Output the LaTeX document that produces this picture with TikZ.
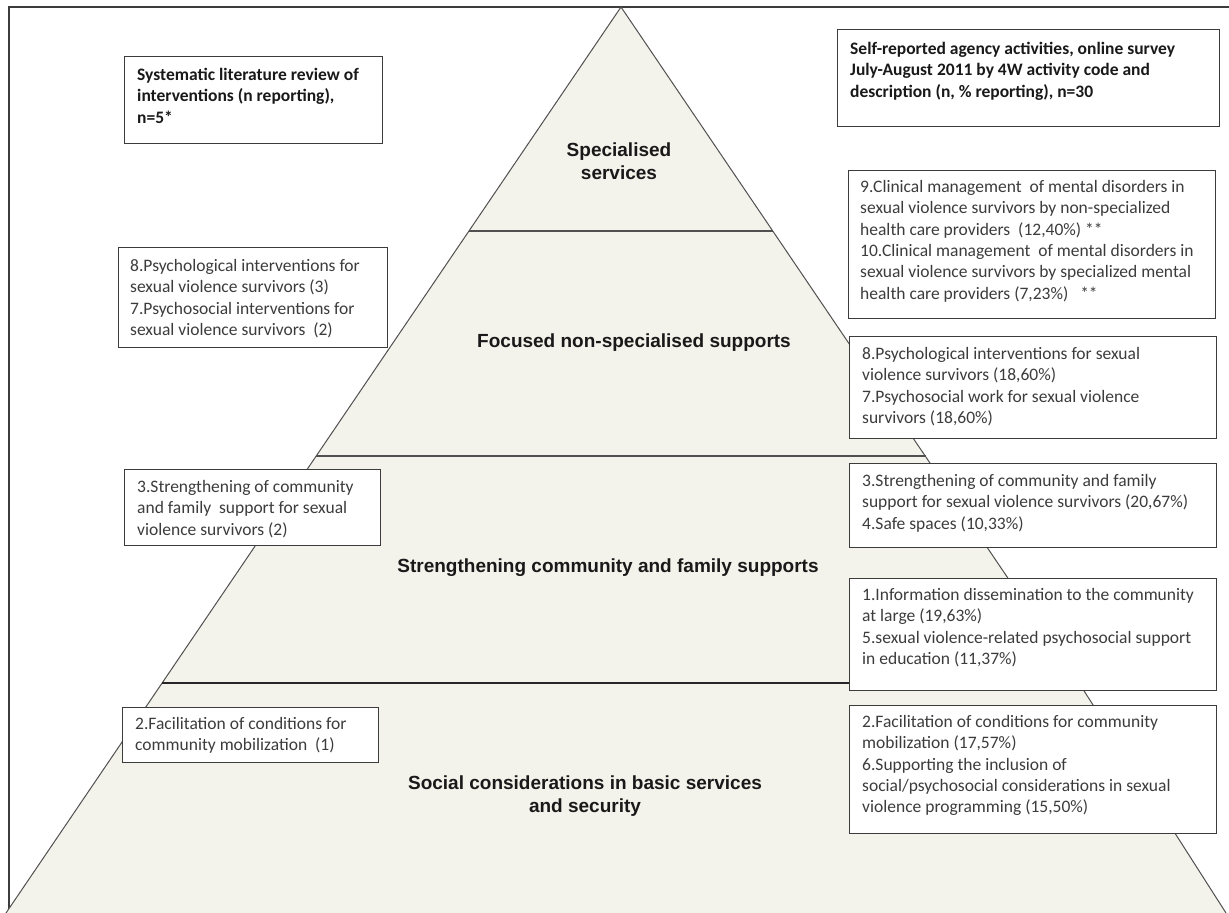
\documentclass[tikz,border=0pt]{standalone}
\usepackage{fontspec}
\newfontfamily\boxfont{Carlito}
\newfontfamily\bandfont{Liberation Sans}
\definecolor{pyrfill}{RGB}{243,242,235}
\definecolor{edgegray}{RGB}{80,80,80}
\definecolor{boxline}{RGB}{60,60,60}
\definecolor{txtgray}{RGB}{60,60,60}
\definecolor{txtdark}{RGB}{25,25,25}
\tikzset{
  box/.style={draw=boxline, line width=1.4pt, fill=white, rectangle, inner sep=0pt, anchor=north west},
  boxtxt/.style={anchor=north west, align=left, inner sep=0pt, text=txtgray, font=\boxfont\fontsize{17.5}{21.4}\selectfont},
  boxhead/.style={boxtxt, text=txtdark, font=\boxfont\bfseries\fontsize{17.5}{21.4}\selectfont},
  band/.style={align=center, inner sep=0pt, text=txtdark, font=\bandfont\bfseries\fontsize{19}{23}\selectfont},
  pyr/.style={draw=edgegray, line width=1pt},
}
\begin{document}
\begin{tikzpicture}[x=1pt,y=-1pt]
\useasboundingbox (0,0) rectangle (1229,913);
\clip (0,0) rectangle (1229,913);
\fill[white] (0,0) rectangle (1229,913);
% outer frame
\draw[draw=boxline, line width=1.3pt] (9,7) rectangle (1245,930);
% pyramid
\coordinate (apex) at (621,7);
\coordinate (s1L) at (469,231); \coordinate (s1R) at (773,231);
\coordinate (s2L) at (316,456); \coordinate (s2R) at (926,456);
\coordinate (s3L) at (162,683); \coordinate (s3R) at (1079,683);
\coordinate (botL) at (6,913);
\coordinate (botR) at (1226,913);
\fill[pyrfill] (apex) -- (botL) -- (botR) -- (s3R) -- cycle;
\draw[pyr] (botL) -- (apex) -- (s3R) -- (botR);
\draw[draw=edgegray, line width=1.2pt] (s1L) -- (s1R);
\draw[draw=edgegray, line width=1.6pt] (s2L) -- (s2R);
\draw[draw=black!85, line width=2.4pt] (s3L) -- (s3R);
% band labels
\node[band] (lspec) at (619,161) {Specialised\\services};
\node[band] (lfoc) at (634,343) {Focused non-specialised supports};
\node[band] (lstr) at (608,568) {Strengthening community and family supports};
\node[band] (lsoc) at (585,796) {Social considerations in basic services\\and security};
% left boxes
\node[box, minimum width=258pt, minimum height=87pt] (bL1) at (124,56) {};
\node[boxhead] (tL1) at (137,68) {Systematic literature review of\\interventions (n reporting),\\n=5*};
\node[box, minimum width=269pt, minimum height=100pt] (bL2) at (118,247) {};
\node[boxtxt] (tL2) at (130,259) {8.Psychological interventions for\\sexual violence survivors (3)\\7.Psychosocial interventions for\\sexual violence survivors\ \ (2)};
\node[box, minimum width=256pt, minimum height=76pt] (bL3) at (124,469) {};
\node[boxtxt] (tL3) at (137,480) {3.Strengthening of community\\and family\ \ support for sexual\\violence survivors (2)};
\node[box, minimum width=256pt, minimum height=55pt] (bL4) at (122,707) {};
\node[boxtxt] (tL4) at (135,717) {2.Facilitation of conditions for\\community mobilization\ \ (1)};
% right boxes
\node[box, minimum width=382pt, minimum height=97pt] (bR1) at (837,29) {};
\node[boxhead] (tR1) at (850,42) {Self-reported agency activities, online survey\\July-August 2011 by 4W activity code and\\description (n, \% reporting), n=30};
\node[box, minimum width=367pt, minimum height=148pt] (bR2) at (848,170) {};
\node[boxtxt] (tR2) at (860,180) {9.Clinical management\ \ of mental disorders in\\sexual violence survivors by non-specialized\\health care providers\ \ (12,40\%) **\\10.Clinical management\ \ of mental disorders in\\sexual violence survivors by specialized mental\\health care providers (7,23\%)\ \ \ **};
\node[box, minimum width=367pt, minimum height=102pt] (bR3) at (849,336) {};
\node[boxtxt] (tR3) at (862,347) {8.Psychological interventions for sexual\\violence survivors (18,60\%)\\7.Psychosocial work for sexual violence\\survivors (18,60\%)};
\node[box, minimum width=367pt, minimum height=84pt] (bR4) at (849,463) {};
\node[boxtxt] (tR4) at (862,474) {3.Strengthening of community and family\\support for sexual violence survivors (20,67\%)\\4.Safe spaces (10,33\%)};
\node[box, minimum width=367pt, minimum height=112pt] (bR5) at (849,578) {};
\node[boxtxt] (tR5) at (862,588) {1.Information dissemination to the community\\at large (19,63\%)\\5.sexual violence-related psychosocial support\\in education (11,37\%)};
\node[box, minimum width=367pt, minimum height=128pt] (bR6) at (849,705) {};
\node[boxtxt] (tR6) at (862,715) {2.Facilitation of conditions for community\\mobilization (17,57\%)\\6.Supporting the inclusion of\\social/psychosocial considerations in sexual\\violence programming (15,50\%)};
\end{tikzpicture}
\end{document}
